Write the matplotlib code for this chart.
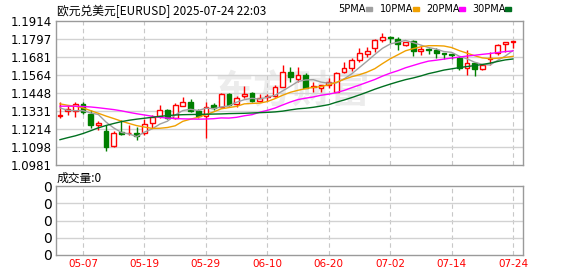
import numpy as np
import pandas as pd
import matplotlib
matplotlib.use("Agg")
import matplotlib.pyplot as plt
from matplotlib.patches import Rectangle

plt.rcParams['font.family'] = ['Noto Sans CJK SC', 'DejaVu Sans']

# trading days shown (05-02 .. 07-24)
dates = pd.bdate_range('2025-05-02', '2025-07-24')

opens = [1.1299, 1.1333, 1.1329, 1.1379, 1.1314, 1.1238, 1.1201, 1.1101, 1.1195, 1.1186,
         1.1190, 1.1188, 1.1253, 1.1299, 1.1335, 1.1288, 1.1365, 1.1391, 1.1333, 1.1298,
         1.1369, 1.1359, 1.1439, 1.1376, 1.1428, 1.1445, 1.1398, 1.1424, 1.1430, 1.1488,
         1.1585, 1.1536, 1.1564, 1.1488, 1.1482, 1.1499, 1.1456, 1.1581, 1.1607, 1.1661,
         1.1698, 1.1737, 1.1791, 1.1808, 1.1797, 1.1758, 1.1784, 1.1719, 1.1730, 1.1726,
         1.1708, 1.1698, 1.1672, 1.1607, 1.1639, 1.1600, 1.1666, 1.1704, 1.1762, 1.1780]
highs = [1.1390, 1.1372, 1.1390, 1.1390, 1.1335, 1.1264, 1.1238, 1.1199, 1.1270, 1.1238,
         1.1227, 1.1281, 1.1307, 1.1368, 1.1346, 1.1385, 1.1419, 1.1408, 1.1344, 1.1391,
         1.1385, 1.1445, 1.1450, 1.1428, 1.1493, 1.1454, 1.1441, 1.1441, 1.1499, 1.1629,
         1.1618, 1.1618, 1.1575, 1.1521, 1.1499, 1.1542, 1.1581, 1.1646, 1.1672, 1.1741,
         1.1747, 1.1797, 1.1834, 1.1819, 1.1812, 1.1780, 1.1791, 1.1758, 1.1741, 1.1741,
         1.1708, 1.1700, 1.1689, 1.1726, 1.1650, 1.1633, 1.1715, 1.1762, 1.1775, 1.1784]
lows = [1.1286, 1.1307, 1.1292, 1.1314, 1.1221, 1.1205, 1.1071, 1.1097, 1.1173, 1.1177,
        1.1140, 1.1177, 1.1221, 1.1288, 1.1281, 1.1282, 1.1365, 1.1326, 1.1283, 1.1154,
        1.1337, 1.1352, 1.1363, 1.1359, 1.1413, 1.1391, 1.1391, 1.1395, 1.1424, 1.1484,
        1.1521, 1.1521, 1.1477, 1.1456, 1.1456, 1.1482, 1.1451, 1.1575, 1.1590, 1.1650,
        1.1683, 1.1715, 1.1775, 1.1769, 1.1726, 1.1754, 1.1689, 1.1693, 1.1698, 1.1672,
        1.1667, 1.1667, 1.1596, 1.1564, 1.1559, 1.1596, 1.1628, 1.1693, 1.1715, 1.1737]
closes = [1.1305, 1.1342, 1.1379, 1.1325, 1.1238, 1.1255, 1.1097, 1.1190, 1.1179, 1.1190,
          1.1169, 1.1244, 1.1292, 1.1335, 1.1286, 1.1368, 1.1387, 1.1333, 1.1298, 1.1359,
          1.1352, 1.1441, 1.1370, 1.1417, 1.1441, 1.1398, 1.1413, 1.1430, 1.1484, 1.1581,
          1.1549, 1.1564, 1.1482, 1.1494, 1.1499, 1.1516, 1.1575, 1.1611, 1.1661, 1.1704,
          1.1719, 1.1791, 1.1808, 1.1804, 1.1762, 1.1775, 1.1719, 1.1730, 1.1726, 1.1708,
          1.1698, 1.1692, 1.1607, 1.1639, 1.1600, 1.1628, 1.1672, 1.1758, 1.1775, 1.1782]

# moving averages
ma5 = [1.1351, 1.1335, 1.1333, 1.1333, 1.1318, 1.1308, 1.1259, 1.1221, 1.1192, 1.1182,
       1.1165, 1.1194, 1.1215, 1.1246, 1.1265, 1.1305, 1.1334, 1.1342, 1.1334, 1.1349,
       1.1346, 1.1357, 1.1364, 1.1388, 1.1404, 1.1413, 1.1408, 1.1420, 1.1433, 1.1461,
       1.1491, 1.1522, 1.1532, 1.1534, 1.1518, 1.1511, 1.1513, 1.1539, 1.1572, 1.1613,
       1.1654, 1.1697, 1.1737, 1.1765, 1.1777, 1.1788, 1.1774, 1.1758, 1.1742, 1.1732,
       1.1716, 1.1711, 1.1686, 1.1669, 1.1647, 1.1633, 1.1629, 1.1659, 1.1687, 1.1723]
ma10 = [1.1377, 1.1368, 1.1362, 1.1351, 1.1333, 1.1316, 1.1298, 1.1282, 1.1265, 1.1250,
        1.1236, 1.1227, 1.1218, 1.1219, 1.1224, 1.1235, 1.1264, 1.1278, 1.1290, 1.1307,
        1.1325, 1.1345, 1.1353, 1.1361, 1.1377, 1.1380, 1.1382, 1.1392, 1.1411, 1.1433,
        1.1452, 1.1465, 1.1476, 1.1484, 1.1489, 1.1501, 1.1517, 1.1536, 1.1553, 1.1566,
        1.1583, 1.1605, 1.1638, 1.1669, 1.1695, 1.1721, 1.1735, 1.1747, 1.1754, 1.1754,
        1.1752, 1.1742, 1.1722, 1.1706, 1.1689, 1.1675, 1.1670, 1.1673, 1.1678, 1.1685]
ma20 = [1.1362, 1.1362, 1.1362, 1.1360, 1.1357, 1.1352, 1.1346, 1.1340, 1.1332, 1.1322,
        1.1313, 1.1305, 1.1297, 1.1290, 1.1285, 1.1282, 1.1280, 1.1279, 1.1278, 1.1279,
        1.1281, 1.1286, 1.1285, 1.1290, 1.1300, 1.1307, 1.1323, 1.1335, 1.1350, 1.1370,
        1.1389, 1.1405, 1.1414, 1.1422, 1.1433, 1.1440, 1.1450, 1.1464, 1.1482, 1.1499,
        1.1517, 1.1535, 1.1557, 1.1576, 1.1592, 1.1611, 1.1626, 1.1641, 1.1654, 1.1660,
        1.1667, 1.1674, 1.1680, 1.1687, 1.1692, 1.1698, 1.1703, 1.1710, 1.1716, 1.1720]
ma30 = [1.1145, 1.1158, 1.1170, 1.1185, 1.1203, 1.1222, 1.1237, 1.1250, 1.1262, 1.1271,
        1.1278, 1.1284, 1.1290, 1.1296, 1.1301, 1.1305, 1.1307, 1.1308, 1.1309, 1.1310,
        1.1311, 1.1312, 1.1314, 1.1315, 1.1316, 1.1318, 1.1320, 1.1322, 1.1325, 1.1330,
        1.1338, 1.1345, 1.1349, 1.1355, 1.1363, 1.1372, 1.1388, 1.1402, 1.1418, 1.1435,
        1.1453, 1.1472, 1.1489, 1.1505, 1.1520, 1.1534, 1.1545, 1.1558, 1.1573, 1.1584,
        1.1596, 1.1604, 1.1612, 1.1619, 1.1625, 1.1632, 1.1641, 1.1652, 1.1662, 1.1668]

price_ticks = [1.0981, 1.1098, 1.1214, 1.1331, 1.1448, 1.1564, 1.1681, 1.1797, 1.1914]
ma_names = ['5PMA', '10PMA', '20PMA', '30PMA']
ma_colors = ['#a0a0a0', '#f0a000', '#ff00ff', '#007020']

W, H = 578, 276
fig = plt.figure(figsize=(W / 100, H / 100), dpi=100)


def box(l, t, r, b):
    return [l / W, 1 - b / H, (r - l) / W, (b - t) / H]


ax = fig.add_axes(box(56, 21, 523, 165))
axv = fig.add_axes(box(56, 186, 523, 255))

x = np.arange(len(closes))
tick_idx = x[3::8]
grid_c = '#d2d2d2'
frame_c = '#9a9a9a'

# faint watermark behind the candles
ax.text(292 / W, 1 - 92 / H, '东方财富', fontsize=28, color='#ececec',
        ha='center', va='center', fontweight='bold', transform=fig.transFigure,
        zorder=0.5)

for a in (ax, axv):
    a.set_xlim(-0.52, 60.3)
    for s in a.spines.values():
        s.set_color(frame_c)
        s.set_linewidth(1)
    for t in tick_idx:
        a.axvline(t, color='#c8c8c8', lw=0.8, ls=(0, (4, 3)), zorder=1)
    a.tick_params(length=0, labelsize=8.5, pad=3)
    a.set_xticks([])

ax.set_ylim(price_ticks[0], price_ticks[-1])
ax.set_yticks(price_ticks)
ax.set_yticklabels(['%.4f' % v for v in price_ticks], fontfamily='DejaVu Sans')
for v in price_ticks[1:-1]:
    ax.axhline(v, color=grid_c, lw=1, zorder=1)

# candles
o = np.array(opens)
c = np.array(closes)
up = c >= o
colors = np.where(up, '#ff0000', '#007f00')
ax.vlines(x, lows, highs, colors=colors, lw=1, zorder=3)
body_h = np.maximum(np.abs(c - o), 0.00012)
ax.bar(x, body_h, bottom=np.minimum(o, c), width=0.62,
       color=np.where(up, 'white', '#007f00'), edgecolor=colors, lw=1, zorder=4)

for vals, col in zip([ma5, ma10, ma20, ma30], ma_colors):
    ax.plot(x, vals, color=col, lw=1, zorder=5)

# volume panel
axv.set_ylim(0, 4)
axv.set_yticks([0, 1, 2, 3, 4])
axv.set_yticklabels(['0'] * 5, fontfamily='DejaVu Sans', fontsize=10)
for v in (1, 2, 3):
    axv.axhline(v, color=grid_c, lw=1, zorder=1)
for t in tick_idx:
    axv.text(t, -0.55, dates[t].strftime('%m-%d'), color='#ff0000', fontsize=7.5,
             ha='center', va='center', fontfamily='DejaVu Sans')

# header texts
fig.text(57 / W, 1 - 11 / H, '欧元兑美元[EURUSD] 2025-07-24 22:03', fontsize=8.5,
         ha='left', va='center')
fig.text(57 / W, 1 - 178 / H, '成交量:0', fontsize=8.5, ha='left', va='center')

leg_x = [338, 380, 426, 472]
sq_x = [366, 413, 459, 505]
for name, col, lx, sx in zip(ma_names, ma_colors, leg_x, sq_x):
    fig.text(lx / W, 1 - 9 / H, name, fontsize=7, ha='left', va='center',
             fontfamily='DejaVu Sans')
    fig.patches.append(Rectangle((sx / W, 1 - 11 / H), 6 / W, 4 / H, color=col,
                                 transform=fig.transFigure, figure=fig))

fig.savefig('out.png', dpi=100)
